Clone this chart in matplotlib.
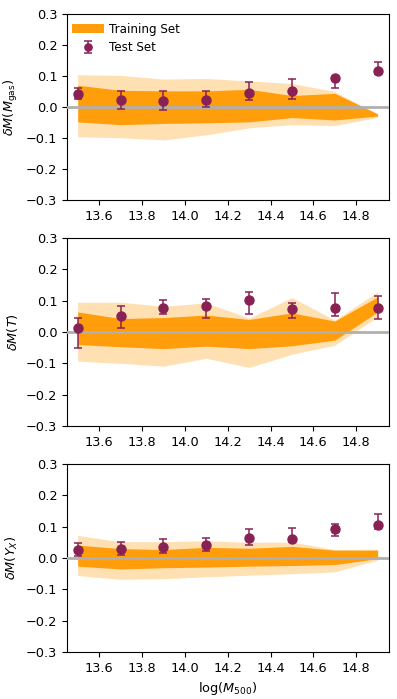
import numpy as np
import matplotlib
matplotlib.use('Agg')
import matplotlib.pyplot as plt

# ---------------------------------------------------------------
# data
# ---------------------------------------------------------------
log_m500 = [13.5, 13.7, 13.9, 14.1, 14.3, 14.5, 14.7, 14.9]

# Mgas
mgas_test     = [0.043, 0.024, 0.019, 0.023, 0.045, 0.051, 0.095, 0.117]
mgas_err_up   = [0.060, 0.052, 0.051, 0.051, 0.082, 0.089, 0.098, 0.144]
mgas_err_lo   = [0.026, -0.006, -0.010, -0.001, 0.024, 0.026, 0.061, 0.105]
mgas_outer_hi = [0.104, 0.102, 0.090, 0.092, 0.084, 0.076, 0.050, -0.024]
mgas_outer_lo = [-0.096, -0.099, -0.106, -0.090, -0.067, -0.057, -0.060, -0.033]
mgas_inner_hi = [0.070, 0.054, 0.052, 0.052, 0.057, 0.037, 0.044, -0.022]
mgas_inner_lo = [-0.048, -0.057, -0.053, -0.051, -0.048, -0.034, -0.042, -0.029]

# T
t_test     = [0.013, 0.050, 0.077, 0.084, 0.102, 0.074, 0.077, 0.077]
t_err_up   = [0.046, 0.084, 0.103, 0.105, 0.127, 0.091, 0.126, 0.116]
t_err_lo   = [-0.050, 0.013, 0.056, 0.046, 0.057, 0.046, 0.051, 0.041]
t_outer_hi = [0.095, 0.095, 0.082, 0.093, 0.044, 0.110, 0.038, 0.128]
t_outer_lo = [-0.093, -0.100, -0.109, -0.084, -0.113, -0.071, -0.042, 0.048]
t_inner_hi = [0.064, 0.043, 0.046, 0.054, 0.040, 0.061, 0.035, 0.112]
t_inner_lo = [-0.040, -0.047, -0.053, -0.045, -0.053, -0.044, -0.026, 0.064]

# Yx
yx_test     = [0.027, 0.030, 0.036, 0.043, 0.063, 0.061, 0.091, 0.105]
yx_err_up   = [0.047, 0.051, 0.061, 0.064, 0.094, 0.095, 0.110, 0.139]
yx_err_lo   = [0.007, 0.011, 0.017, 0.022, 0.040, 0.050, 0.071, 0.092]
yx_outer_hi = [0.072, 0.052, 0.052, 0.055, 0.050, 0.051, 0.027, 0.028]
yx_outer_lo = [-0.056, -0.068, -0.066, -0.060, -0.055, -0.050, -0.044, -0.007]
yx_inner_hi = [0.041, 0.030, 0.027, 0.034, 0.031, 0.037, 0.025, 0.025]
yx_inner_lo = [-0.026, -0.035, -0.031, -0.029, -0.026, -0.024, -0.021, -0.002]

ylabels = [r'$\delta M(M_{\rm gas})$', r'$\delta M(T)$', r'$\delta M(Y_X)$']

panels = [
    (mgas_test, mgas_err_lo, mgas_err_up, mgas_outer_lo, mgas_outer_hi, mgas_inner_lo, mgas_inner_hi),
    (t_test, t_err_lo, t_err_up, t_outer_lo, t_outer_hi, t_inner_lo, t_inner_hi),
    (yx_test, yx_err_lo, yx_err_up, yx_outer_lo, yx_outer_hi, yx_inner_lo, yx_inner_hi),
]

# ---------------------------------------------------------------
plt.rcParams['font.size'] = 9.3

W, H = 397, 699
fig = plt.figure(figsize=(W / 100, H / 100), dpi=100)

# axes boxes in pixels: (left, top, right, bottom)
boxes = [(67, 14, 389, 200), (67, 238, 389, 426), (67, 464, 389, 652)]

orange = '#ff9d0a'
light = '#ffe0b2'
purple = '#882255'

x = np.array(log_m500)
for i, (box, data) in enumerate(zip(boxes, panels)):
    l, t, r, b = box
    ax = fig.add_axes([l / W, 1 - b / H, (r - l) / W, (b - t) / H])
    test, elo, eup, olo, ohi, ilo, ihi = [np.array(d) for d in data]

    ax.fill_between(x, olo, ohi, color=light, lw=0, zorder=1)
    ax.fill_between(x, ilo, ihi, color=orange, lw=0, zorder=2, label='Training Set')
    ax.axhline(0, color='#b0b0b0', lw=2, zorder=3)
    yerr = np.vstack([test - elo, eup - test])
    ax.errorbar(x, test, yerr=yerr, fmt='o', color=purple, ms=6.5,
                ecolor=purple, elinewidth=1.1, capsize=3, capthick=1.1,
                zorder=4, label='Test Set')

    ax.set_xlim(13.45, 14.953)
    ax.set_ylim(-0.3, 0.3)
    ax.set_xticks([13.6, 13.8, 14.0, 14.2, 14.4, 14.6, 14.8])
    ax.set_yticks([-0.3, -0.2, -0.1, 0.0, 0.1, 0.2, 0.3])
    ax.set_ylabel(ylabels[i])
    if i == 0:
        ax.legend(loc='upper left', bbox_to_anchor=(5 / (r - l), 1 - 8.5 / (b - t)),
                  frameon=False, fontsize=8.6, borderaxespad=0, borderpad=0,
                  handlelength=2.7, handletextpad=0.4, markerscale=0.8,
                  labelspacing=0.45)
    if i == 2:
        ax.set_xlabel(r'$\log(M_{500})$')

fig.savefig('out.png', dpi=100)
